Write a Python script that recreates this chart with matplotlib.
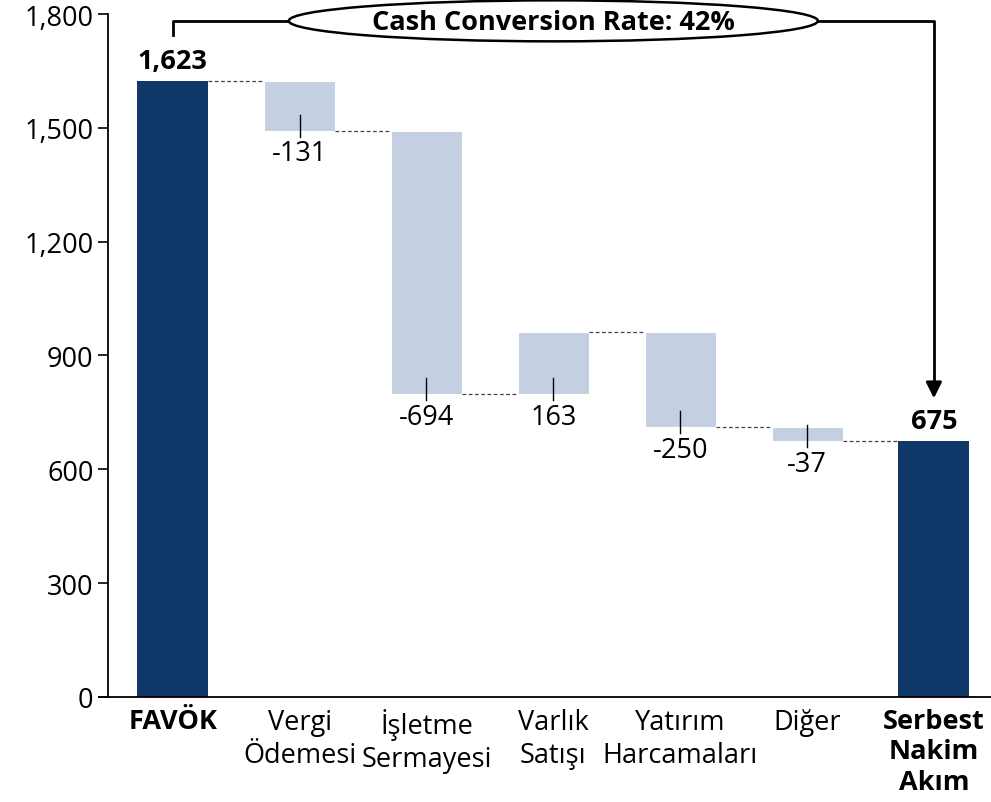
import matplotlib.pyplot as plt
from matplotlib.patches import Ellipse
from matplotlib.ticker import FuncFormatter

plt.rcParams['font.family'] = ['Open Sans', 'DejaVu Sans']

categories = ["FAVÖK", "Vergi\nÖdemesi", "İşletme\nSermayesi", "Varlık\nSatışı",
              "Yatırım\nHarcamaları", "Diğer", "Serbest\nNakim\nAkım"]
start_value = 1623
changes = [-131, -694, 163, -250, -37]
end_value = 675
rate_label = "Cash Conversion Rate: 42%"

DARK = "#0F3868"
LIGHT = "#C4CFE1"
FS = 19.5

fig = plt.figure(figsize=(9.91, 8.03), dpi=100)
ax = fig.add_axes([0.109, 0.1308, 0.891, 0.8505])

w = 0.56
# total bars
ax.bar(0, start_value, width=w, color=DARK)
ax.bar(len(categories) - 1, end_value, width=w, color=DARK)

levels = [start_value]
for c in changes:
    levels.append(levels[-1] + c)

for i, c in enumerate(changes, start=1):
    lo = min(levels[i - 1], levels[i])
    ax.bar(i, abs(c), bottom=lo, width=w, color=LIGHT, edgecolor="white", linewidth=0.8)
    # small tick + label under the bar
    ax.plot([i, i], [lo + 42, lo - 16], color="black", lw=1.0)
    ax.text(i, lo - 22, f"{c:,}", ha="center", va="top", fontsize=FS)

# dashed connectors
for i in range(len(categories) - 1):
    y = levels[i] if i < len(levels) else end_value
    ax.plot([i + w / 2, i + 1 - w / 2], [y, y], ls=(0, (3, 2)), color="#444444", lw=0.9)

# total labels
ax.text(0, start_value + 18, f"{start_value:,}", ha="center", va="bottom",
        fontsize=FS, fontweight="bold")
ax.text(len(categories) - 1, end_value + 18, f"{end_value:,}", ha="center",
        va="bottom", fontsize=FS, fontweight="bold")

# cash conversion annotation
top_y = 1782
ell_cx, ell_w, ell_h = 3.0, 4.17, 108
ax.plot([0, 0, ell_cx - ell_w / 2], [1745, top_y, top_y], color="black", lw=2,
        clip_on=False)
ax.plot([ell_cx + ell_w / 2, 6, 6], [top_y, top_y, 820], color="black", lw=2,
        clip_on=False)
ax.annotate("", xy=(6, 780), xytext=(6, 830),
            arrowprops=dict(arrowstyle="-|>", color="black", lw=2,
                            mutation_scale=24), annotation_clip=False)
ax.add_patch(Ellipse((ell_cx, top_y), ell_w, ell_h, facecolor="white",
                     edgecolor="black", lw=1.8, clip_on=False, zorder=5))
ax.text(ell_cx, top_y - 4, rate_label, ha="center", va="center", fontsize=FS,
        fontweight="bold", zorder=6)

ax.set_xlim(-0.51, 6.45)
ax.set_ylim(0, 1800)
ax.set_yticks(range(0, 1801, 300))
ax.yaxis.set_major_formatter(FuncFormatter(lambda v, p: f"{int(v):,}"))
ax.set_xticks(range(len(categories)))
ax.set_xticklabels(categories, fontsize=FS, linespacing=1.22)
for lbl in (ax.get_xticklabels()[0], ax.get_xticklabels()[-1]):
    lbl.set_fontweight("bold")
ax.tick_params(axis="x", length=0, pad=8)
ax.tick_params(axis="y", labelsize=FS, length=7, width=1.2)
for s in ("top", "right"):
    ax.spines[s].set_visible(False)
ax.spines["left"].set_linewidth(1.3)
ax.spines["bottom"].set_linewidth(1.3)
ax.spines["bottom"].set_bounds(-0.58, 6.45)

fig.savefig("out.png", dpi=100)
